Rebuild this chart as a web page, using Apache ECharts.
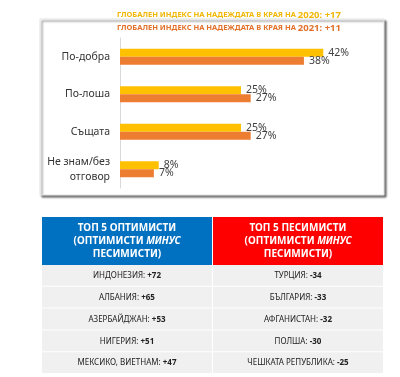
<!DOCTYPE html>
<html>
<head>
<meta charset="utf-8">
<script src="https://cdn.jsdelivr.net/npm/echarts@6/dist/echarts.min.js"></script>
<style>
  html, body { margin: 0; padding: 0; background: #fff; }
  #chart { width: 400px; height: 377px; }
</style>
</head>
<body>
<div id="chart"></div>
<script>
var categories = ['По-добра', 'По-лоша', 'Същата', 'Не знам/без\nотговор'];
var values2020 = [42, 25, 25, 8];
var values2021 = [38, 27, 27, 7];

var optimists = ['ИНДОНЕЗИЯ', 'АЛБАНИЯ', 'АЗЕРБАЙДЖАН', 'НИГЕРИЯ', 'МЕКСИКО, ВИЕТНАМ'];
var optimistScores = ['+72', '+65', '+53', '+51', '+47'];
var pessimists = ['ТУРЦИЯ', 'БЪЛГАРИЯ', 'АФГАНИСТАН', 'ПОЛША', 'ЧЕШКАТА РЕПУБЛИКА'];
var pessimistScores = ['-34', '-33', '-32', '-30', '-25'];

var FONT = '"Noto Sans", sans-serif';

// builds one of the two tables under the chart
function table(x, w, color, title, names, scores) {
    var els = [];
    var top = 217, headH = 48, rowH = 21.8;
    els.push({
        type: 'rect', shape: {x: x, y: top, width: w, height: headH},
        style: {fill: color}
    });
    els.push({
        type: 'text', x: x + w / 2, y: top + headH / 2,
        style: {
            text: '{b|' + title + '}\n{b|(ОПТИМИСТИ }{i|МИНУС}\n{b|ПЕСИМИСТИ)}',
            align: 'center', verticalAlign: 'middle',
            rich: {
                b: {fill: '#fff', fontFamily: FONT, fontWeight: 'bold', fontSize: 10, lineHeight: 13},
                i: {fill: '#fff', fontFamily: FONT, fontWeight: 'bold', fontStyle: 'italic', fontSize: 10, lineHeight: 13}
            }
        }
    });
    for (var i = 0; i < names.length; i++) {
        var y = top + headH + i * rowH;
        els.push({
            type: 'rect', shape: {x: x, y: y, width: w, height: rowH - 1},
            style: {fill: '#f0f0f0'}
        });
        els.push({
            type: 'text', x: x + w / 2, y: y + rowH / 2,
            style: {
                text: '{n|' + names[i] + ': }{v|' + scores[i] + '}',
                align: 'center', verticalAlign: 'middle',
                rich: {
                    n: {fill: '#222', fontFamily: FONT, fontSize: 8},
                    v: {fill: '#222', fontFamily: FONT, fontSize: 8, fontWeight: 'bold'}
                }
            }
        });
    }
    return els;
}

var chart = echarts.init(document.getElementById('chart'));

var graphics = [
    {
        type: 'rect', z: -10,
        shape: {x: 40, y: 19, width: 344, height: 176},
        style: {
            fill: '#fff', stroke: '#e3e3e3', lineWidth: 1,
            shadowColor: 'rgba(0,0,0,0.55)', shadowOffsetX: 2, shadowOffsetY: 2, shadowBlur: 2
        }
    },
    {
        type: 'text', x: 229, y: 15,
        style: {
            text: '{s|ГЛОБАЛЕН ИНДЕКС НА НАДЕЖДАТА В КРАЯ НА }{l|2020: +17}',
            align: 'center', verticalAlign: 'middle',
            rich: {
                s: {fill: '#f2b705', fontFamily: FONT, fontWeight: 'bold', fontSize: 7.5},
                l: {fill: '#f2b705', fontFamily: FONT, fontWeight: 'bold', fontSize: 9.5}
            }
        }
    },
    {
        type: 'text', x: 229, y: 28,
        style: {
            text: '{s|ГЛОБАЛЕН ИНДЕКС НА НАДЕЖДАТА В КРАЯ НА }{l|2021: +11}',
            align: 'center', verticalAlign: 'middle',
            rich: {
                s: {fill: '#e2712b', fontFamily: FONT, fontWeight: 'bold', fontSize: 7.5},
                l: {fill: '#e2712b', fontFamily: FONT, fontWeight: 'bold', fontSize: 9.5}
            }
        }
    }
].concat(
    table(42, 170, '#0070c0', 'ТОП 5 ОПТИМИСТИ', optimists, optimistScores),
    table(213, 170, '#ff0000', 'ТОП 5 ПЕСИМИСТИ', pessimists, pessimistScores)
);

var labelStyle = {
    show: true, position: 'right', distance: 5,
    formatter: '{c}%', color: '#404040', fontFamily: FONT, fontSize: 10.5
};

var option = {
    animation: false,
    textStyle: {fontFamily: FONT},
    grid: {left: 120, right: 38, top: 38, bottom: 189},
    xAxis: {
        type: 'value', min: 0, max: 50, show: false
    },
    yAxis: {
        type: 'category', inverse: true, data: categories,
        axisLine: {show: true, lineStyle: {color: '#d9d9d9'}},
        axisTick: {show: false},
        axisLabel: {color: '#333', fontSize: 10.5, fontFamily: FONT, margin: 10, lineHeight: 15}
    },
    series: [
        {
            name: '2020', type: 'bar', data: values2020,
            barWidth: 8, barGap: '0%',
            itemStyle: {color: '#ffc000'},
            label: labelStyle
        },
        {
            name: '2021', type: 'bar', data: values2021,
            barWidth: 8, barGap: '0%',
            itemStyle: {color: '#ed7d31'},
            label: labelStyle
        }
    ],
    graphic: graphics
};
chart.setOption(option);
window.addEventListener('resize', function () {
    chart.resize();
});
</script>
</body>
</html>
